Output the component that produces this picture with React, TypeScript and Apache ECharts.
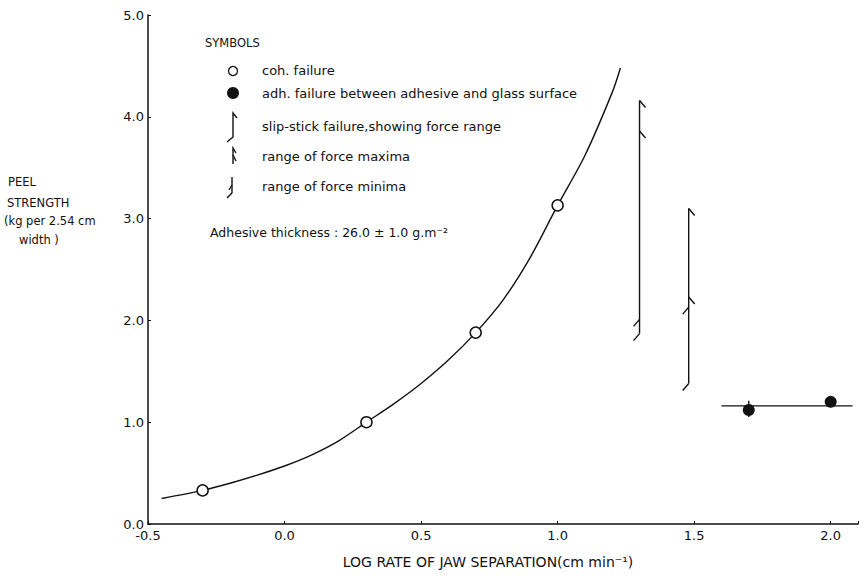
import React, { useEffect, useRef } from "react";
import * as echarts from "echarts";

// Open circles: cohesive failure
const cohX = [-0.3, 0.3, 0.7, 1.0];
const cohY = [0.33, 1.0, 1.88, 3.13];

// Fitted curve through cohesive failure points
const curveX = [-0.45, -0.3, -0.2, -0.1, 0.0, 0.1, 0.2, 0.3, 0.4, 0.5, 0.6, 0.7, 0.8, 0.9, 1.0, 1.1, 1.2, 1.23];
const curveY = [0.25, 0.33, 0.4, 0.48, 0.57, 0.68, 0.82, 1.0, 1.18, 1.38, 1.61, 1.88, 2.2, 2.62, 3.13, 3.62, 4.24, 4.48];

// Filled circles: adhesive failure
const adhX = [1.7, 2.0];
const adhY = [1.12, 1.2];
const adhLineX = [1.6, 2.08];
const adhLineY = [1.16, 1.16];
const adhBarY = [1.05, 1.21];

// Slip-stick failure ranges
const slipX = [1.3, 1.48];
const slipTop = [4.16, 3.1];
const slipBottom = [1.87, 1.38];
const slipMaxLow = [3.86, 2.23];
const slipMinHigh = [2.01, 2.13];

// Axis ticks
const xMin = -0.5;
const xMax = 2.1;
const xStep = 0.5;
const yMin = 0;
const yMax = 5;
const yStep = 1;

const FONT = "DejaVu Sans";
const INK = "#111";

export default function App() {
  const ref = useRef<HTMLDivElement>(null);

  useEffect(() => {
    if (!ref.current) return;
    const chart = echarts.init(ref.current, null, { renderer: "svg" });

    const lineStyle = { stroke: INK, lineWidth: 1.4, fill: "none" };
    const flag = (p: number[], dir: number) => ({
      type: "line",
      shape: { x1: p[0], y1: p[1], x2: p[0] + dir * 6, y2: p[1] + 7 },
      style: lineStyle,
    });

    const textStyle = (x: number, y: number, text: string, size = 13, align = "left") => ({
      type: "text",
      x,
      y,
      style: {
        text,
        fill: INK,
        font: `${size}px "${FONT}"`,
        textAlign: align,
        textVerticalAlign: "middle",
      },
    });

    chart.setOption({
      animation: false,
      backgroundColor: "#fff",
      grid: { left: 148, top: 15, right: 6, bottom: 53, containLabel: false },
      xAxis: {
        type: "value",
        min: xMin,
        max: xMax,
        interval: xStep,
        axisLine: { onZero: false, lineStyle: { color: INK, width: 1.5 } },
        axisTick: { inside: true, length: 3, lineStyle: { color: INK } },
        splitLine: { show: false },
        axisLabel: {
          color: INK,
          fontFamily: FONT,
          fontSize: 13,
          margin: 5,
          formatter: (v: number) =>
            Math.abs(v / xStep - Math.round(v / xStep)) < 1e-6 ? v.toFixed(1) : "",
        },
      },
      yAxis: {
        type: "value",
        min: yMin,
        max: yMax,
        interval: yStep,
        axisLine: { show: true, onZero: false, lineStyle: { color: INK, width: 1.5 } },
        axisTick: { show: true, inside: true, length: 3, lineStyle: { color: INK } },
        splitLine: { show: false },
        axisLabel: {
          color: INK,
          fontFamily: FONT,
          fontSize: 13,
          margin: 4,
          formatter: (v: number) => v.toFixed(1),
        },
      },
      series: [
        {
          type: "line",
          smooth: 0.3,
          showSymbol: false,
          symbol: "none",
          data: curveX.map((x, i) => [x, curveY[i]]),
          lineStyle: { color: INK, width: 1.4 },
          z: 2,
        },
        {
          type: "line",
          showSymbol: false,
          symbol: "none",
          data: adhLineX.map((x, i) => [x, adhLineY[i]]),
          lineStyle: { color: INK, width: 1.4 },
          z: 2,
        },
        {
          type: "line",
          showSymbol: false,
          symbol: "none",
          data: adhBarY.map((y) => [adhX[0], y]),
          lineStyle: { color: INK, width: 1.4 },
          z: 2,
        },
        {
          type: "custom",
          encode: { x: 0, y: [1, 2, 3, 4] },
          data: slipX.map((x, i) => [x, slipTop[i], slipBottom[i], slipMaxLow[i], slipMinHigh[i]]),
          renderItem: (_params: any, api: any) => {
            const x = api.value(0);
            const pTop = api.coord([x, api.value(1)]);
            const pBot = api.coord([x, api.value(2)]);
            const pMax = api.coord([x, api.value(3)]);
            const pMin = api.coord([x, api.value(4)]);
            return {
              type: "group",
              children: [
                {
                  type: "line",
                  shape: { x1: pTop[0], y1: pTop[1], x2: pBot[0], y2: pBot[1] },
                  style: lineStyle,
                },
                flag(pTop, 1),
                flag(pMax, 1),
                flag(pMin, -1),
                flag(pBot, -1),
              ],
            };
          },
          z: 3,
        },
        {
          type: "scatter",
          symbol: "circle",
          symbolSize: 11,
          data: cohX.map((x, i) => [x, cohY[i]]),
          itemStyle: { color: "#fff", borderColor: INK, borderWidth: 1.5, opacity: 1 },
          z: 5,
        },
        {
          type: "scatter",
          symbol: "circle",
          symbolSize: 12,
          data: adhX.map((x, i) => [x, adhY[i]]),
          itemStyle: { color: INK, opacity: 1 },
          z: 5,
        },
      ],
      graphic: [
        textStyle(205, 43, "SYMBOLS", 11.5),
        {
          type: "circle",
          shape: { cx: 233, cy: 71, r: 4.5 },
          style: { fill: "#fff", stroke: INK, lineWidth: 1.3 },
        },
        {
          type: "circle",
          shape: { cx: 233, cy: 93, r: 6 },
          style: { fill: INK },
        },
        {
          type: "polyline",
          shape: { points: [[237, 118], [233, 113], [233, 137], [227, 142]] },
          style: lineStyle,
        },
        {
          type: "polyline",
          shape: { points: [[236, 153], [233, 148], [233, 164]] },
          style: lineStyle,
        },
        {
          type: "line",
          shape: { x1: 233, y1: 155, x2: 236, y2: 161 },
          style: lineStyle,
        },
        {
          type: "line",
          shape: { x1: 232, y1: 177, x2: 232, y2: 193 },
          style: lineStyle,
        },
        {
          type: "line",
          shape: { x1: 232, y1: 185, x2: 229, y2: 190 },
          style: lineStyle,
        },
        {
          type: "line",
          shape: { x1: 232, y1: 193, x2: 227, y2: 198 },
          style: lineStyle,
        },
        textStyle(262, 70, "coh. failure"),
        textStyle(262, 93, "adh. failure between adhesive and glass surface"),
        textStyle(262, 126, "slip-stick failure,showing force range"),
        textStyle(262, 156, "range of force maxima"),
        textStyle(262, 186, "range of force minima"),
        textStyle(210, 232, "Adhesive thickness : 26.0 \u00b1 1.0 g.m\u207b\u00b2", 12.5),
        textStyle(8, 182, "PEEL", 11.5),
        textStyle(7, 203, "STRENGTH", 11.5),
        textStyle(4, 221, "(kg per 2.54 cm", 11.5),
        textStyle(19, 240, "width )", 11.5),
        textStyle(488, 562, "LOG RATE OF JAW SEPARATION(cm min\u207b\u00b9)", 14, "center"),
      ],
    });

    return () => chart.dispose();
  }, []);

  return (
    <div
      ref={ref}
      style={{ position: "fixed", left: 0, top: 0, width: 864, height: 577, background: "#fff" }}
    />
  );
}
